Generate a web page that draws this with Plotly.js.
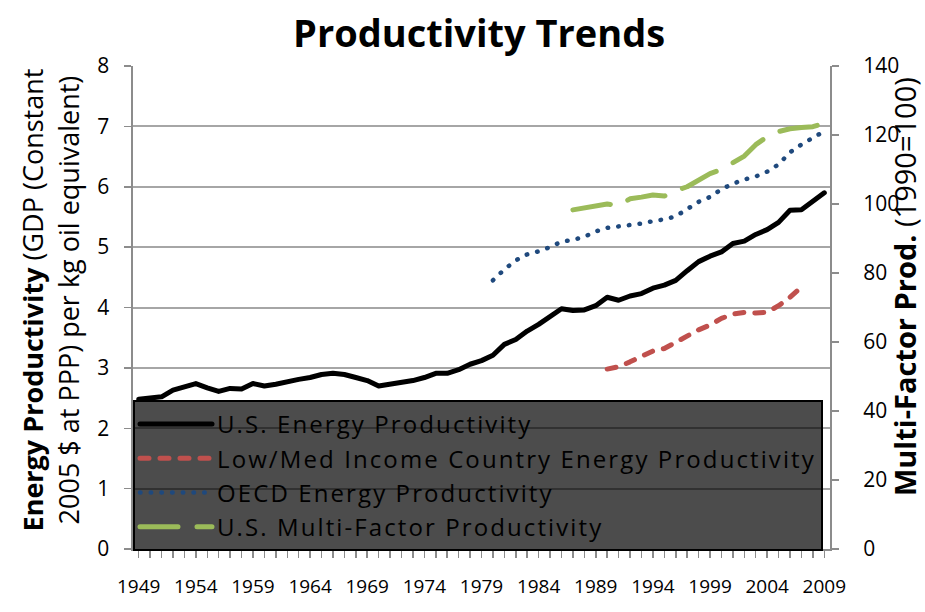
<!DOCTYPE html>
<html>
<head>
<meta charset="utf-8">
<script src="https://cdn.plot.ly/plotly-3.0.1.min.js"></script>
<style>
  html, body { margin: 0; padding: 0; background: #fff; }
  #chart { width: 925px; height: 612px; }
  .scatterlayer .js-line, .legendlines .js-line { stroke-linecap: round; stroke-linejoin: round; }
  .legendtext { letter-spacing: 2.1px; }
</style>
</head>
<body>
<div id="chart"></div>
<script>
// ---- data ----
var years = [];
for (var y = 1949; y <= 2009; y++) years.push(y);

var usEnergy = [2.48, 2.50, 2.52, 2.63, 2.69, 2.74, 2.67, 2.61, 2.66, 2.65,
                2.74, 2.70, 2.73, 2.78, 2.81, 2.84, 2.89, 2.91, 2.89, 2.84,
                2.79, 2.70, 2.73, 2.74, 2.79, 2.84, 2.91, 2.91, 2.97, 3.06,
                3.12, 3.21, 3.39, 3.47, 3.61, 3.72, 3.85, 3.98, 3.95, 3.96,
                4.03, 4.17, 4.12, 4.19, 4.23, 4.32, 4.37, 4.45, 4.61, 4.76,
                4.85, 4.92, 5.06, 5.10, 5.21, 5.29, 5.41, 5.61, 5.62, 5.77,
                5.90];

var lowMedYears = [1990, 1991, 1992, 1993, 1994, 1995, 1996, 1997, 1998, 1999,
                   2000, 2001, 2002, 2003, 2004, 2005, 2006, 2007];
var lowMedEnergy = [2.98, 3.02, 3.10, 3.18, 3.28, 3.32, 3.43, 3.54, 3.63, 3.71,
                    3.82, 3.89, 3.92, 3.91, 3.92, 4.03, 4.17, 4.34];

var oecdYears = [1980, 1981, 1982, 1983, 1984, 1985, 1986, 1987, 1988, 1989,
                 1990, 1991, 1992, 1993, 1994, 1995, 1996, 1997, 1998, 1999,
                 2000, 2001, 2002, 2003, 2004, 2005, 2006, 2007, 2008, 2009];
var oecdEnergy = [4.45, 4.63, 4.78, 4.88, 4.93, 5.00, 5.09, 5.12, 5.17, 5.26,
                  5.32, 5.34, 5.37, 5.39, 5.43, 5.46, 5.51, 5.62, 5.75, 5.83,
                  5.96, 6.05, 6.12, 6.17, 6.25, 6.37, 6.57, 6.70, 6.81, 6.92];

var mfpYears = [1987, 1988, 1989, 1990, 1991, 1992, 1993, 1994, 1995, 1996,
                1997, 1998, 1999, 2000, 2001, 2002, 2003, 2004, 2005, 2006,
                2007, 2008, 2009];
var usMultiFactor = [98.3, 98.9, 99.5, 100.0, 99.5, 101.5, 102.0, 102.6, 102.3, 103.9,
                     105.0, 106.8, 108.8, 110.0, 112.0, 113.9, 117.2, 119.5, 121.0, 121.8,
                     122.2, 122.4, 123.4];

var seriesNames = ['U.S. Energy Productivity',
                   'Low/Med Income Country Energy Productivity',
                   'OECD Energy Productivity',
                   'U.S. Multi-Factor Productivity'];

var leftAxisTitle = '<b>Energy Productivity</b> (GDP (Constant<br>2005 $ at PPP) per kg oil equivalent)';
var rightAxisTitle = '<b>Multi-Factor Prod.</b> (1990=100)';

var FONT = '"Open Sans", Lato, sans-serif';

var traces = [
  { x: years, y: usEnergy, name: seriesNames[0], type: 'scatter', mode: 'lines',
    line: { color: '#000000', width: 5 } },
  { x: lowMedYears, y: lowMedEnergy, name: seriesNames[1], type: 'scatter', mode: 'lines',
    line: { color: '#c0504d', width: 5, dash: '9px,11px' } },
  { x: oecdYears, y: oecdEnergy, name: seriesNames[2], type: 'scatter', mode: 'lines',
    line: { color: '#1f497d', width: 4.5, dash: '0.5px,10.2px' } },
  { x: mfpYears, y: usMultiFactor, name: seriesNames[3], type: 'scatter', mode: 'lines',
    yaxis: 'y2', line: { color: '#9bbb59', width: 5, dash: '38px,19px' } }
];

var layout = {
  width: 925, height: 612,
  margin: { l: 133, r: 95, t: 66, b: 63 },
  paper_bgcolor: '#ffffff', plot_bgcolor: '#ffffff',
  font: { family: FONT, color: '#000000' },
  showlegend: true,
  title: {
    text: '<b>Productivity Trends</b>',
    font: { family: FONT, size: 38, color: '#000000' },
    xref: 'container', x: 0.518, xanchor: 'center',
    yref: 'container', y: 0.945, yanchor: 'middle'
  },
  xaxis: {
    range: [1948.5, 2009.5],
    tick0: 1949, dtick: 5,
    ticks: 'outside', ticklen: 7, tickcolor: '#8c8c8c', tickwidth: 1.5,
    minor: { dtick: 1, ticks: 'outside', ticklen: 7, tickcolor: '#8c8c8c', tickwidth: 1.5, showgrid: false },
    showline: true, linecolor: '#8c8c8c', linewidth: 2,
    showgrid: false, zeroline: false,
    ticklabelstandoff: 12,
    tickfont: { family: FONT, size: 19, color: '#000000' }
  },
  yaxis: {
    range: [0, 8], dtick: 1,
    ticks: 'outside', ticklen: 7, tickcolor: '#8c8c8c', tickwidth: 1.5,
    showline: true, linecolor: '#8c8c8c', linewidth: 2,
    showgrid: true, gridcolor: '#a6a6a6', gridwidth: 2, zeroline: false,
    ticksuffix: '\u2002',
    tickfont: { family: FONT, size: 21, color: '#000000' }
  },
  yaxis2: {
    overlaying: 'y', side: 'right',
    range: [0, 140], dtick: 20,
    ticks: 'outside', ticklen: 7, tickcolor: '#8c8c8c', tickwidth: 1.5,
    showline: true, linecolor: '#8c8c8c', linewidth: 2,
    showgrid: false, zeroline: false,
    ticklabelstandoff: 20,
    tickfont: { family: FONT, size: 21, color: '#000000' }
  },
  annotations: [
    { text: leftAxisTitle, textangle: -90, showarrow: false,
      xref: 'paper', yref: 'paper', x: -0.1184, y: 0.5155,
      xanchor: 'center', yanchor: 'middle',
      font: { family: FONT, size: 27, color: '#000000' } },
    { text: rightAxisTitle, textangle: -90, showarrow: false,
      xref: 'paper', yref: 'paper', x: 1.1062, y: 0.5424,
      xanchor: 'center', yanchor: 'middle',
      font: { family: FONT, size: 29, color: '#000000' } }
  ],
  legend: {
    x: 0, xanchor: 'left', y: 0.3085, yanchor: 'top',
    bgcolor: 'rgba(0,0,0,0.7)', bordercolor: '#000000', borderwidth: 2,
    font: { family: FONT, size: 24, color: '#000000' },
    itemwidth: 72, tracegroupgap: 0
  }
};

Plotly.newPlot('chart', traces, layout, { displayModeBar: false, staticPlot: true });
</script>
</body>
</html>
